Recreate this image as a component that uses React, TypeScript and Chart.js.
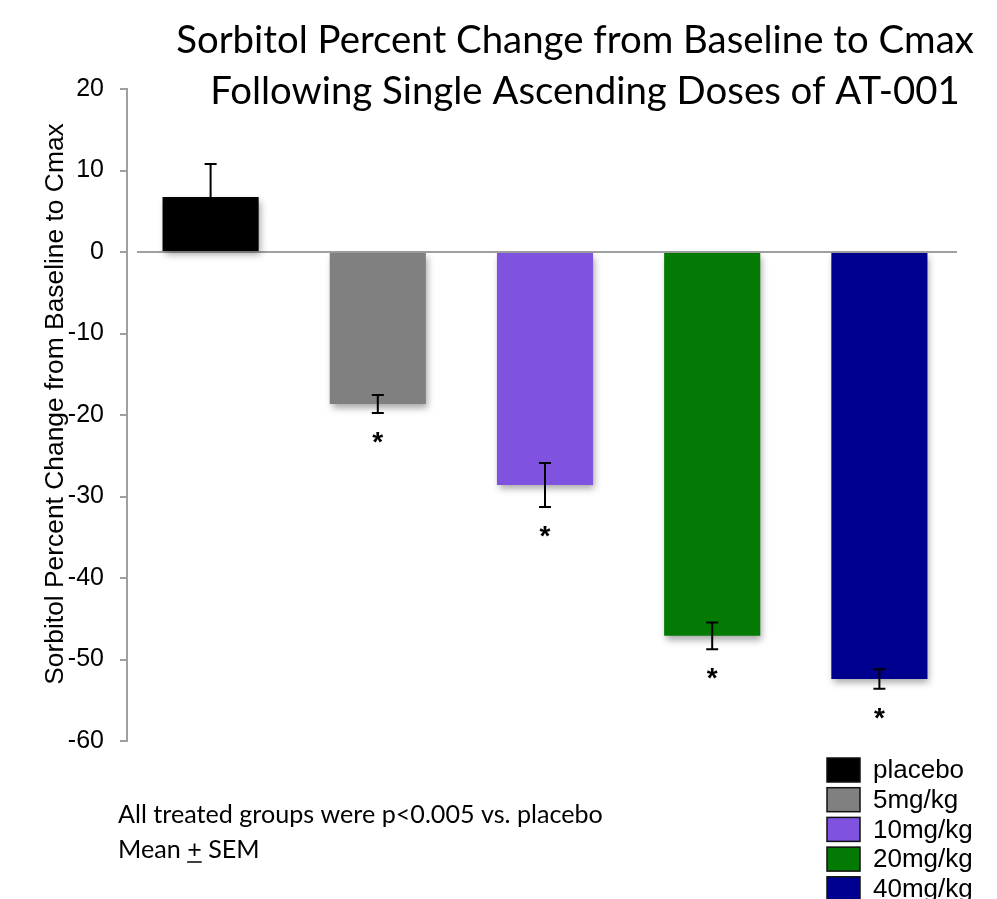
import React, { useEffect, useRef } from "react";
import { Chart, registerables } from "chart.js";

Chart.register(...registerables);

const categories = ["placebo", "5mg/kg", "10mg/kg", "20mg/kg", "40mg/kg"];
const meanChange = [6.75, -18.65, -28.6, -47.1, -52.4];
const semValues = [4.05, 1.1, 2.7, 1.65, 1.2];
const significant = [false, true, true, true, true];
const barColors = ["#000000", "#808080", "#8052E0", "#037A03", "#00008E"];
const yTicks = [20, 10, 0, -10, -20, -30, -40, -50, -60];
const titleLines = [
  "Sorbitol Percent Change from Baseline to Cmax",
  "Following Single Ascending Doses of AT-001",
];
const yAxisTitle = "Sorbitol Percent Change from Baseline to Cmax";
const noteLine1 = "All treated groups were p<0.005 vs. placebo";

const AXIS_GRAY = "#a0a0a0";
const ARIAL = "'Liberation Sans', Arial, sans-serif";
const CALIBRI = "Lato, 'Open Sans', sans-serif";

function fitFont(ctx: CanvasRenderingContext2D, text: string, family: string, width: number) {
  ctx.font = `36px ${family}`;
  const w = ctx.measureText(text).width;
  const size = (36 * width) / w;
  ctx.font = `${size}px ${family}`;
  return size;
}

const decorPlugin = {
  id: "decor",
  beforeDatasetsDraw(chart: any) {
    const ctx = chart.ctx;
    const y = chart.scales.y;
    const zero = y.getPixelForValue(0);
    ctx.save();
    ctx.strokeStyle = AXIS_GRAY;
    ctx.lineWidth = 2;
    ctx.beginPath();
    ctx.moveTo(chart.chartArea.left + 10, zero);
    ctx.lineTo(chart.chartArea.right - 6, zero);
    ctx.stroke();
    ctx.restore();
    ctx.save();
    ctx.shadowColor = "rgba(0,0,0,0.35)";
    ctx.shadowBlur = 7;
    ctx.shadowOffsetX = 2;
    ctx.shadowOffsetY = 4;
  },
  afterDatasetsDraw(chart: any) {
    const ctx = chart.ctx;
    ctx.restore();
    const y = chart.scales.y;
    const meta = chart.getDatasetMeta(0);
    ctx.save();
    ctx.strokeStyle = "#000";
    ctx.lineWidth = 2;
    meta.data.forEach((bar: any, i: number) => {
      const x = bar.x;
      const top = y.getPixelForValue(meanChange[i] + semValues[i]);
      const bot = y.getPixelForValue(meanChange[i] - semValues[i]);
      ctx.beginPath();
      ctx.moveTo(x, top);
      ctx.lineTo(x, bot);
      ctx.moveTo(x - 6, top);
      ctx.lineTo(x + 6, top);
      ctx.moveTo(x - 6, bot);
      ctx.lineTo(x + 6, bot);
      ctx.stroke();
      if (significant[i]) {
        ctx.fillStyle = "#000";
        ctx.font = `bold 28px ${ARIAL}`;
        ctx.textAlign = "center";
        ctx.textBaseline = "middle";
        ctx.fillText("*", x, bot + 30);
      }
    });
    ctx.restore();
  },
  afterDraw(chart: any) {
    const ctx = chart.ctx;
    ctx.save();
    // Title
    ctx.fillStyle = "#000";
    ctx.textAlign = "center";
    ctx.textBaseline = "alphabetic";
    fitFont(ctx, titleLines[0], CALIBRI, 798);
    ctx.fillText(titleLines[0], 575, 53);
    ctx.fillText(titleLines[1], 585, 104);

    // Y axis title
    ctx.save();
    ctx.translate(63, 404);
    ctx.rotate(-Math.PI / 2);
    fitFont(ctx, yAxisTitle, ARIAL, 562);
    ctx.textAlign = "center";
    ctx.textBaseline = "alphabetic";
    ctx.fillText(yAxisTitle, 0, 0);
    ctx.restore();

    // Legend
    ctx.font = `26px ${ARIAL}`;
    ctx.textAlign = "left";
    ctx.textBaseline = "middle";
    categories.forEach((c, i) => {
      const top = 758 + i * 29.7;
      ctx.fillStyle = barColors[i];
      ctx.fillRect(827, top, 33, 24);
      ctx.strokeStyle = "#111";
      ctx.lineWidth = 1.5;
      ctx.strokeRect(827, top, 33, 24);
      ctx.fillStyle = "#000";
      ctx.fillText(c, 873, top + 13);
    });

    // Notes
    fitFont(ctx, noteLine1, CALIBRI, 485);
    ctx.textBaseline = "alphabetic";
    ctx.textAlign = "left";
    ctx.fillStyle = "#000";
    ctx.fillText(noteLine1, 118, 823);
    const a = "Mean ";
    const b = "+";
    const c = " SEM";
    ctx.fillText(a, 118, 858);
    const wa = ctx.measureText(a).width;
    ctx.fillText(b, 118 + wa, 858);
    const wb = ctx.measureText(b).width;
    ctx.fillText(c, 118 + wa + wb, 858);
    ctx.strokeStyle = "#000";
    ctx.lineWidth = 1.5;
    ctx.beginPath();
    ctx.moveTo(118 + wa, 862);
    ctx.lineTo(118 + wa + wb, 862);
    ctx.stroke();
    ctx.restore();
  },
};

export default function App() {
  const ref = useRef<HTMLCanvasElement>(null);
  useEffect(() => {
    if (!ref.current) return;
    const chart = new Chart(ref.current, {
      type: "bar",
      data: {
        labels: categories,
        datasets: [
          {
            data: meanChange,
            backgroundColor: barColors,
            borderWidth: 0,
            categoryPercentage: 1,
            barPercentage: 0.575,
          },
        ],
      },
      options: {
        responsive: false,
        animation: false,
        layout: { padding: { left: 0, top: 89, right: 34, bottom: 158 } },
        plugins: {
          legend: { display: false },
          tooltip: { enabled: false },
          title: { display: false },
        },
        scales: {
          x: { display: false },
          y: {
            min: -60,
            max: 20,
            afterFit: (s: any) => {
              s.width = 127;
            },
            afterBuildTicks: (s: any) => {
              s.ticks = yTicks.map((v) => ({ value: v }));
            },
            ticks: {
              color: "#000",
              padding: 16,
              font: { family: ARIAL, size: 25 },
            },
            grid: {
              drawOnChartArea: false,
              drawTicks: true,
              tickLength: 7,
              color: AXIS_GRAY,
              lineWidth: 2,
            },
            border: { display: true, color: AXIS_GRAY, width: 2 },
          },
        },
      },
      plugins: [decorPlugin],
    });
    return () => chart.destroy();
  }, []);
  return (
    <canvas
      ref={ref}
      width={997}
      height={899}
      style={{ position: "fixed", left: 0, top: 0, width: 997, height: 899 }}
    />
  );
}
